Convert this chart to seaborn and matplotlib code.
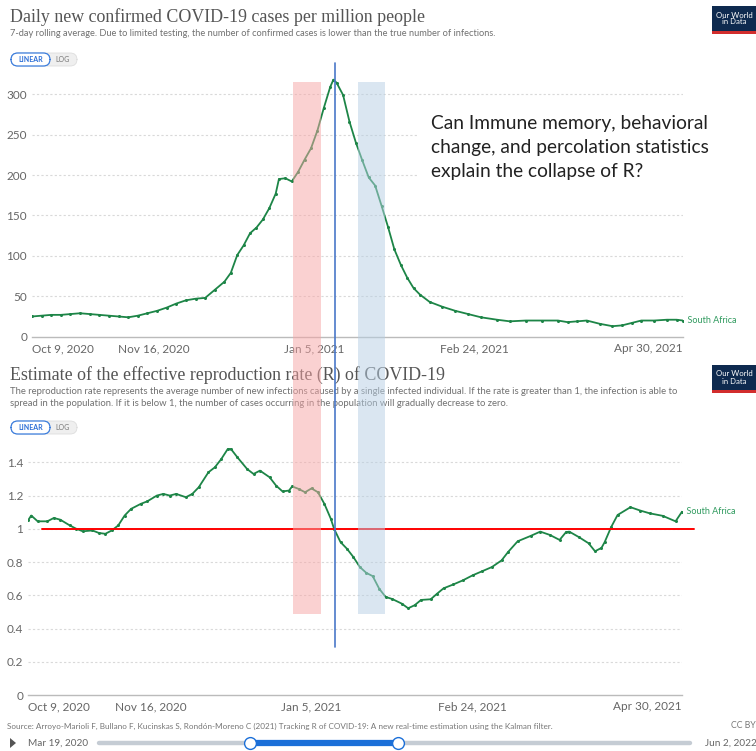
import matplotlib
matplotlib.use("Agg")
import matplotlib.pyplot as plt
import matplotlib.dates as mdates
import matplotlib.transforms as mtransforms
from matplotlib.patches import Rectangle, FancyBboxPatch, Polygon
from matplotlib.lines import Line2D
import pandas as pd
import seaborn as sns

W, H = 756, 751

start = pd.Timestamp("2020-10-09")
end = pd.Timestamp("2021-04-30")

# daily new confirmed cases per million, South Africa (days after Oct 9, 2020)
cases_day = [0, 3, 6, 9, 12, 15, 18, 21, 24, 27, 30, 33, 36, 39, 42, 45, 48, 51, 54, 57,
             60, 62, 64, 66, 68, 70, 72, 74, 76, 77, 79, 81, 83, 85, 87, 89, 91, 93, 94, 95,
             97, 99, 101, 103, 105, 107, 109, 111, 113, 115, 117, 119, 121, 124, 128, 132,
             136, 140, 145, 149, 154, 159, 164, 167, 170, 173, 177, 181, 184, 187, 190, 194,
             198, 201, 203]
cases_val = [25, 26, 27, 27, 28, 29, 28, 27, 26, 25, 24, 26, 29, 32, 36, 41, 45, 47, 48, 58,
             68, 79, 101, 113, 128, 135, 145, 159, 177, 195, 196, 192, 204, 219, 233, 255, 283, 309, 318, 314,
             299, 266, 240, 218, 197, 187, 162, 136, 108, 89, 73, 60, 52, 43, 37, 32,
             28, 24, 21, 19, 20, 20, 20, 18, 19, 20, 16, 13, 14, 17, 20, 20,
             21, 21, 20]

# effective reproduction rate R, South Africa
r_day = [0, 1, 3, 6, 8, 10, 13, 15, 17, 20, 22, 24, 26, 28, 30, 32, 35, 37, 40, 42,
         44, 46, 49, 51, 53, 56, 58, 60, 62, 63, 65, 68, 70, 72, 75, 77, 79, 81, 82, 84,
         86, 88, 90, 92, 94, 95, 97, 99, 101, 103, 105, 107, 109, 111, 113, 116, 118, 120,
         122, 125, 127, 129, 132, 135, 138, 141, 144, 147, 149, 152, 156, 159, 162, 165,
         167, 168, 171, 174, 176, 178, 179, 181, 183, 187, 190, 193, 197, 201, 203]
r_val = [1.05, 1.08, 1.045, 1.045, 1.065, 1.055, 1.02, 1.0, 0.985, 0.99, 0.975, 0.97, 0.99, 1.02, 1.08, 1.12, 1.15, 1.165, 1.2, 1.21,
         1.2, 1.21, 1.19, 1.21, 1.25, 1.34, 1.37, 1.42, 1.48, 1.48, 1.43, 1.36, 1.33, 1.35, 1.31, 1.26, 1.225, 1.23, 1.255, 1.24,
         1.22, 1.243, 1.22, 1.15, 1.06, 1.0, 0.92, 0.88, 0.83, 0.77, 0.735, 0.715, 0.64, 0.59, 0.578, 0.55, 0.522, 0.54,
         0.572, 0.576, 0.61, 0.642, 0.665, 0.69, 0.72, 0.745, 0.77, 0.81, 0.86, 0.925, 0.957, 0.983, 0.963, 0.933,
         0.98, 0.983, 0.95, 0.913, 0.865, 0.885, 0.92, 1.01, 1.083, 1.13, 1.11, 1.093, 1.078, 1.045, 1.103]

tick_dates = ["2020-10-09", "2020-11-16", "2021-01-05", "2021-02-24", "2021-04-30"]
tick_labels = ["Oct 9, 2020", "Nov 16, 2020", "Jan 5, 2021", "Feb 24, 2021", "Apr 30, 2021"]
cases_ticks = [0, 50, 100, 150, 200, 250, 300]
cases_tick_labels = ["0", "50", "100", "150", "200", "250", "300"]
r_ticks = [0, 0.2, 0.4, 0.6, 0.8, 1.0, 1.2, 1.4]
r_tick_labels = ["0", "0.2", "0.4", "0.6", "0.8", "1", "1.2", "1.4"]

red_band = ("2020-12-29 12:00", "2021-01-07")
blue_band = ("2021-01-18 14:00", "2021-01-27")
marker_date = "2021-01-11 10:00"

GREEN = "#1d8547"
GREY = "#666666"

sns.set_style("white")
plt.rcParams["font.family"] = ["Lato", "DejaVu Sans"]


def fx(x):
    return x / W


def fy(y):
    return 1 - y / H


fig = plt.figure(figsize=(W / 100, H / 100), dpi=100)

ax1 = fig.add_axes([fx(32), fy(336.7), 651 / W, (336.7 - 78) / H])
ax2 = fig.add_axes([fx(28), fy(695), 654 / W, (695 - 445.7) / H])


def style_axis(ax, ymax, yticks, ylabels):
    ax.set_xlim(start, end)
    ax.set_ylim(0, ymax)
    ax.set_yticks(yticks)
    ax.set_yticklabels(ylabels)
    ax.set_xticks(pd.to_datetime(tick_dates))
    ax.set_xticklabels(tick_labels)
    for s in ["top", "right", "left"]:
        ax.spines[s].set_visible(False)
    ax.spines["bottom"].set_color("#bbbbbb")
    ax.spines["bottom"].set_linewidth(1.0)
    ax.tick_params(axis="y", length=0, labelsize=8.5, labelcolor=GREY, pad=3.5)
    ax.tick_params(axis="x", length=3, color="#bbbbbb", labelsize=8.5, labelcolor=GREY, pad=1.5)
    for v in yticks[1:]:
        ax.axhline(v, color="#d9d9d9", lw=0.8, ls=(0, (2, 2)), zorder=0)
    labels = ax.get_xticklabels()
    labels[0].set_ha("left")
    labels[-1].set_ha("right")
    ax.set_xlabel("")
    ax.set_ylabel("")
    ax.patch.set_alpha(0)


cases_dates = start + pd.to_timedelta(cases_day, unit="D")
r_dates = start + pd.to_timedelta(r_day, unit="D")

sns.lineplot(x=cases_dates, y=cases_val, ax=ax1, color=GREEN, lw=1.3,
             marker="o", markersize=2.2, markeredgewidth=0)
style_axis(ax1, 320, cases_ticks, cases_tick_labels)
ax1.text(cases_dates[-1], cases_val[-1], "  South Africa", color="#2f9a5e",
         fontsize=6.5, va="center", ha="left", clip_on=False)

sns.lineplot(x=r_dates, y=r_val, ax=ax2, color=GREEN, lw=1.3,
             marker="o", markersize=2.2, markeredgewidth=0)
style_axis(ax2, 1.5, r_ticks, r_tick_labels)
ax2.text(r_dates[-1], r_val[-1], "  South Africa", color="#2f9a5e",
         fontsize=6.5, va="center", ha="left", clip_on=False)
ax2.axhline(1.0, xmin=14 / 654, xmax=666 / 654, color="#ff0000", lw=1.4,
            clip_on=False, zorder=3)

# highlight bands and marker line, x from dates, y across both panels
blend = mtransforms.blended_transform_factory(ax1.transData, fig.transFigure)
for (a, b), col in [(red_band, "#f7a5a5"), (blue_band, "#b7cfe4")]:
    x0 = mdates.date2num(pd.Timestamp(a))
    x1 = mdates.date2num(pd.Timestamp(b))
    fig.add_artist(Rectangle((x0, fy(614)), x1 - x0, fy(82) - fy(614),
                             transform=blend, color=col, alpha=0.5, lw=0, zorder=5))
xm = mdates.date2num(pd.Timestamp(marker_date))
fig.add_artist(Line2D([xm, xm], [fy(647), fy(63)], transform=blend,
                      color="#4a78c8", lw=1.2, zorder=6))

# titles
fig.text(fx(10), fy(17), "Daily new confirmed COVID-19 cases per million people",
         family="Liberation Serif", fontsize=12.9, color="#555555", va="center")
fig.text(fx(10), fy(33), "7-day rolling average. Due to limited testing, the number of confirmed "
         "cases is lower than the true number of infections.",
         fontsize=6.7, color="#707070", va="center")
fig.text(fx(10), fy(375), "Estimate of the effective reproduction rate (R) of COVID-19",
         family="Liberation Serif", fontsize=12.9, color="#555555", va="center")
fig.text(fx(10), fy(391), "The reproduction rate represents the average number of new infections "
         "caused by a single infected individual. If the rate is greater than 1, the infection is able to",
         fontsize=6.8, color="#707070", va="center")
fig.text(fx(10), fy(403), "spread in the population. If it is below 1, the number of cases occurring "
         "in the population will gradually decrease to zero.",
         fontsize=6.8, color="#707070", va="center")


def toggle(ytop):
    fig.add_artist(FancyBboxPatch((fx(11), fy(ytop + 14)), fx(66), 13 / H,
                                  boxstyle="round,pad=0,rounding_size=0.009",
                                  fc="#efefef", ec="#dddddd", lw=0.6))
    fig.add_artist(FancyBboxPatch((fx(11), fy(ytop + 14)), fx(39), 13 / H,
                                  boxstyle="round,pad=0,rounding_size=0.009",
                                  fc="white", ec="#3b7ddd", lw=0.9))
    fig.text(fx(30.5), fy(ytop + 7.5), "LINEAR", fontsize=5, color="#2d6fd6",
             ha="center", va="center", weight="bold")
    fig.text(fx(63), fy(ytop + 7.5), "LOG", fontsize=5, color="#777777",
             ha="center", va="center")


toggle(52)
toggle(420)


def logo(ytop):
    fig.add_artist(Rectangle((fx(712), fy(ytop + 28)), 44 / W, 28 / H,
                             color="#0e2a4f", lw=0, zorder=2))
    fig.add_artist(Rectangle((fx(712), fy(ytop + 28)), 44 / W, 3 / H,
                             color="#d22d2d", lw=0, zorder=3))
    fig.text(fx(734), fy(ytop + 12.5), "Our World\nin Data", color="white",
             fontsize=5.6, ha="center", va="center", linespacing=1.0, zorder=4)


logo(6)
logo(365)

# annotation box
fig.add_artist(Rectangle((fx(419), fy(198)), (730 - 419) / W, 98 / H,
                         color="white", lw=0, zorder=2))
fig.text(fx(431), fy(148), "Can Immune memory, behavioral\nchange, and percolation statistics\n"
         "explain the collapse of R?", fontsize=13.8, color="#222222",
         ha="left", va="center", linespacing=1.5, zorder=3)

# footer
fig.text(fx(7), fy(726), "Source: Arroyo-Marioli F, Bullano F, Kucinskas S, Rondón-Moreno C (2021) "
         "Tracking R of COVID-19: A new real-time estimation using the Kalman filter.",
         fontsize=5.9, color="#777777", va="center")
fig.text(fx(756), fy(726), "CC BY", fontsize=6.3, color="#777777", va="center", ha="right")

fig.add_artist(Polygon([(fx(10), fy(738)), (fx(10), fy(748)), (fx(16), fy(743))],
                       closed=True, color="#555555", lw=0))
fig.text(fx(28), fy(743), "Mar 19, 2020", fontsize=7.2, color="#666666", va="center")
fig.add_artist(Line2D([fx(99), fx(690)], [fy(743), fy(743)], color="#c5ccd4",
                      lw=3.2, solid_capstyle="round"))
fig.add_artist(Line2D([fx(250), fx(398)], [fy(743), fy(743)], color="#1b6fd8", lw=4.5))
for hx in [250, 398]:
    fig.add_artist(Line2D([fx(hx)], [fy(743)], marker="o", markersize=8.5,
                          mfc="white", mec="#1b6fd8", mew=1.0, ls="none", zorder=4))
fig.text(fx(705), fy(743), "Jun 2, 2022", fontsize=7.2, color="#666666", va="center")

fig.savefig("out.png", dpi=100, facecolor="white")
